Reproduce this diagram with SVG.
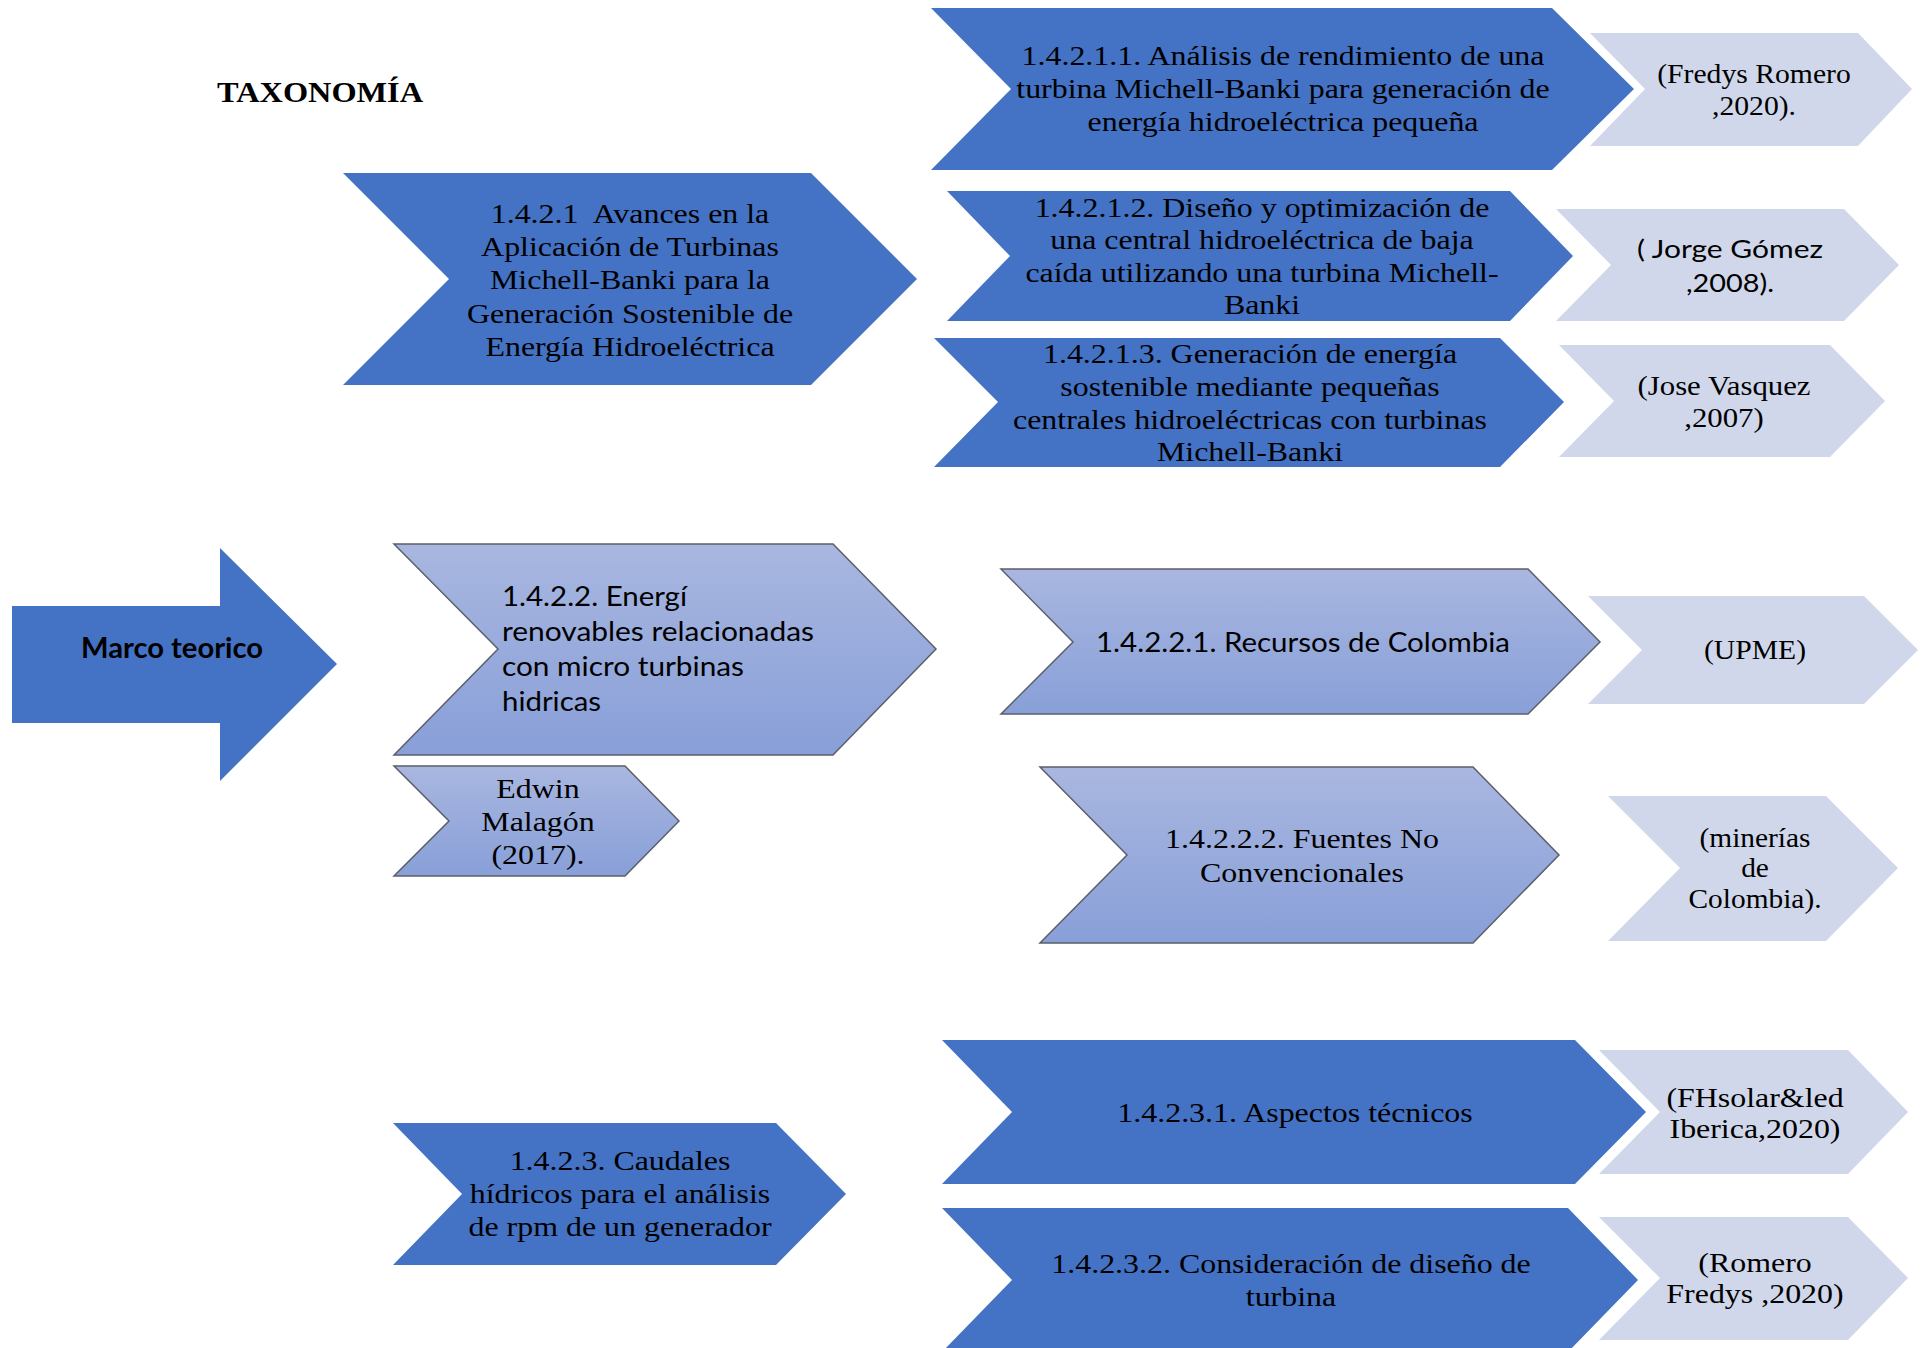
<svg xmlns="http://www.w3.org/2000/svg" width="1923" height="1348" viewBox="0 0 1923 1348">
<defs>
<linearGradient id="g" x1="0" y1="0" x2="0" y2="1">
<stop offset="0" stop-color="#A9B7E0"/>
<stop offset="1" stop-color="#889FD8"/>
</linearGradient>
</defs>
<style>
.dark{fill:#4472C4}
.light{fill:#D0D7EA}
.grad{fill:url(#g);stroke:#5B5F6A;stroke-width:1.5}
.t{font-family:"Liberation Serif","Times New Roman",serif;font-size:28px;fill:#000;text-anchor:middle}
.c{font-family:Lato,"Liberation Sans",sans-serif;fill:#000}
</style>
<rect width="1923" height="1348" fill="#fff"/>
<text x="217" y="102" style="font-family:'Liberation Serif',serif;font-weight:bold;font-size:30px" textLength="206" lengthAdjust="spacingAndGlyphs">TAXONOMÍA</text>
<g id="connectors"/>
<g id="marco">
<polygon class="dark" points="12,606 220,606 220,548 337,664 220,781 220,723 12,723"/>
<text class="c" x="81" y="658" style="font-weight:bold;font-size:28px" textLength="182" lengthAdjust="spacingAndGlyphs">Marco teorico</text>
</g>
<g id="n1421">
<polygon class="dark" points="343,173 811,173 917,279 811,385 343,385 449,279"/>
<text class="t" transform="translate(630 0) scale(1.14 1)"><tspan x="0" y="223">1.4.2.1&#160; Avances en la</tspan><tspan x="0" y="256">Aplicación de Turbinas</tspan><tspan x="0" y="289">Michell-Banki para la</tspan><tspan x="0" y="323">Generación Sostenible de</tspan><tspan x="0" y="356">Energía Hidroeléctrica</tspan></text>
</g>
<g id="n14211">
<polygon class="dark" points="931,8 1552,8 1634,89 1552,170 931,170 1011,89"/>
<text class="t" transform="translate(1283 0) scale(1.14 1)"><tspan x="0" y="65">1.4.2.1.1. Análisis de rendimiento de una</tspan><tspan x="0" y="98">turbina Michell-Banki para generación de</tspan><tspan x="0" y="131">energía hidroeléctrica pequeña</tspan></text>
</g>
<g id="c1">
<polygon class="light" points="1590,33 1858,33 1912,89 1858,146 1590,146 1645,89"/>
<text class="t" transform="translate(1754 0) scale(1.06 1)"><tspan x="0" y="83">(Fredys Romero</tspan><tspan x="0" y="115">,2020).</tspan></text>
</g>
<g id="n14212">
<polygon class="dark" points="947,191 1510,191 1573,256 1510,321 947,321 1010,256"/>
<text class="t" transform="translate(1262 0) scale(1.14 1)"><tspan x="0" y="217">1.4.2.1.2. Diseño y optimización de</tspan><tspan x="0" y="249">una central hidroeléctrica de baja</tspan><tspan x="0" y="282">caída utilizando una turbina Michell-</tspan><tspan x="0" y="314">Banki</tspan></text>
</g>
<g id="c2">
<polygon class="light" points="1556,209 1844,209 1899,265 1844,321 1556,321 1611,265"/>
<text class="c" x="1637" y="258" style="font-size:25px" textLength="186" lengthAdjust="spacingAndGlyphs">( Jorge Gómez</text>
<text class="c" x="1686" y="292" style="font-size:25px" textLength="88" lengthAdjust="spacingAndGlyphs">,2008).</text>
</g>
<g id="n14213">
<polygon class="dark" points="934,338 1500,338 1564,402 1500,467 934,467 998,402"/>
<text class="t" transform="translate(1250 0) scale(1.14 1)"><tspan x="0" y="363">1.4.2.1.3. Generación de energía</tspan><tspan x="0" y="396">sostenible mediante pequeñas</tspan><tspan x="0" y="429">centrales hidroeléctricas con turbinas</tspan><tspan x="0" y="461">Michell-Banki</tspan></text>
</g>
<g id="c3">
<polygon class="light" points="1559,345 1830,345 1885,401 1830,457 1559,457 1614,401"/>
<text class="t" transform="translate(1724 0) scale(1.1 1)"><tspan x="0" y="395">(Jose Vasquez</tspan><tspan x="0" y="427">,2007)</tspan></text>
</g>
<g id="n1422">
<polygon class="grad" points="394,544 833,544 936,649 833,755 394,755 498,649"/>
<text class="c" style="font-size:26px"><tspan x="502" y="606" textLength="185" lengthAdjust="spacingAndGlyphs">1.4.2.2. Energí</tspan><tspan x="502" y="641" textLength="312" lengthAdjust="spacingAndGlyphs">renovables relacionadas</tspan><tspan x="502" y="676" textLength="242" lengthAdjust="spacingAndGlyphs">con micro turbinas</tspan><tspan x="502" y="711" textLength="99" lengthAdjust="spacingAndGlyphs">hidricas</tspan></text>
</g>
<g id="edwin">
<polygon class="grad" points="394,766 625,766 679,821 625,876 394,876 449,821"/>
<text class="t" transform="translate(538 0) scale(1.14 1)"><tspan x="0" y="798">Edwin</tspan><tspan x="0" y="831">Malagón</tspan><tspan x="0" y="864">(2017).</tspan></text>
</g>
<g id="n14221">
<polygon class="grad" points="1001,569 1528,569 1600,642 1528,714 1001,714 1073,642"/>
<text class="c" x="1096" y="652" style="font-size:27px" textLength="414" lengthAdjust="spacingAndGlyphs">1.4.2.2.1. Recursos de Colombia</text>
</g>
<g id="upme">
<polygon class="light" points="1588,596 1864,596 1918,650 1864,704 1588,704 1642,650"/>
<text class="t" transform="translate(1755 0) scale(1.06 1)"><tspan x="0" y="659">(UPME)</tspan></text>
</g>
<g id="n14222">
<polygon class="grad" points="1040,767 1473,767 1559,855 1473,943 1040,943 1127,855"/>
<text class="t" transform="translate(1302 0) scale(1.14 1)"><tspan x="0" y="848">1.4.2.2.2. Fuentes No</tspan><tspan x="0" y="882">Convencionales</tspan></text>
</g>
<g id="minerias">
<polygon class="light" points="1608,796 1826,796 1898,868 1826,941 1608,941 1680,868"/>
<text class="t" transform="translate(1755 0) scale(1.05 1)"><tspan x="0" y="847">(minerías</tspan><tspan x="0" y="877">de</tspan><tspan x="0" y="908">Colombia).</tspan></text>
</g>
<g id="n1423">
<polygon class="dark" points="393,1123 776,1123 846,1194 776,1265 393,1265 462,1194"/>
<text class="t" transform="translate(620 0) scale(1.14 1)"><tspan x="0" y="1170">1.4.2.3. Caudales</tspan><tspan x="0" y="1203">hídricos para el análisis</tspan><tspan x="0" y="1236">de rpm de un generador</tspan></text>
</g>
<g id="n14231">
<polygon class="dark" points="942,1040 1575,1040 1646,1112 1575,1184 942,1184 1012,1112"/>
<text class="t" transform="translate(1295 0) scale(1.14 1)"><tspan x="0" y="1122">1.4.2.3.1. Aspectos técnicos</tspan></text>
</g>
<g id="fh">
<polygon class="light" points="1599,1050 1848,1050 1908,1112 1848,1174 1599,1174 1660,1112"/>
<text class="t" transform="translate(1755 0) scale(1.14 1)"><tspan x="0" y="1107">(FHsolar&amp;led</tspan><tspan x="0" y="1138">Iberica,2020)</tspan></text>
</g>
<g id="n14232">
<polygon class="dark" points="942,1208 1568,1208 1638,1280 1568,1352 942,1352 1012,1280"/>
<text class="t" transform="translate(1291 0) scale(1.14 1)"><tspan x="0" y="1273">1.4.2.3.2. Consideración de diseño de</tspan><tspan x="0" y="1306">turbina</tspan></text>
</g>
<g id="romero">
<polygon class="light" points="1599,1217 1848,1217 1908,1278 1848,1340 1599,1340 1660,1278"/>
<text class="t" transform="translate(1755 0) scale(1.14 1)"><tspan x="0" y="1272">(Romero</tspan><tspan x="0" y="1303">Fredys ,2020)</tspan></text>
</g>
</svg>
